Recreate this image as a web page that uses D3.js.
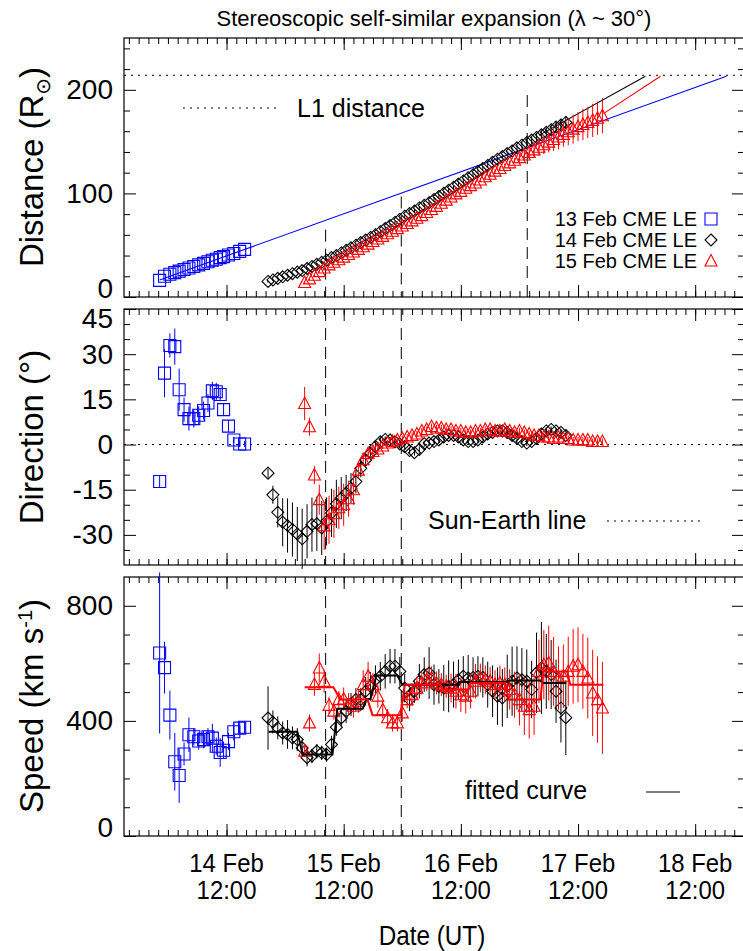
<!DOCTYPE html>
<html>
<head>
<meta charset="utf-8">
<script src="https://cdn.jsdelivr.net/npm/d3@7"></script>
<style>
body { margin: 0; background: #fff; }
text { font-family: "Liberation Sans", Arial, sans-serif; fill: #000; }
.tick line { stroke: #000; stroke-width: 1; }
</style>
</head>
<body>
<svg width="743" height="951"></svg>
<script>
// ---- data (times are hours after 13 Feb 2011 00:00 UT) ----
var t13 = [22.3, 23.3, 24.4, 25.4, 26.3, 27.3, 28.3, 29.3, 30.3, 31.3, 32.2, 33.1, 33.9, 34.7, 35.4, 36.4, 37.5, 38.7, 39.7];
var dist13 = [16, 20, 22, 23.5, 25, 26.5, 28, 29.5, 31, 32.5, 34, 35.5, 36.5, 38, 39, 40.5, 42, 44, 46];
var dir13 = [-12.3, 23.7, 32.9, 32.5, 18.2, 11.6, 8.6, 8.6, 9.7, 11.3, 13.8, 17.8, 17.5, 16.6, 11.6, 6.1, 1.5, 0.2, 0.2];
var dirErr13 = [2, 8, 4, 6, 7, 4, 4, 3, 3, 3, 3, 3, 3, 2, 2, 2, 1, 1, 1];
var speed13 = [636, 585, 420, 258, 210, 285, 352, 345, 330, 335, 345, 340, 312, 290, 298, 328, 362, 375, 378];
var speedErr13 = [280, 90, 85, 100, 95, 40, 60, 30, 30, 30, 30, 50, 30, 50, 30, 30, 30, 20, 20];

var t14 = [44.5, 45.5, 46.5, 47.5, 48.5, 49.5, 50.5, 51.5, 52.5, 53.5, 54.5, 55.5, 56.5, 57.5, 58.5, 59.5,
  60.5, 61.5, 62.5, 63.5, 64.5, 65.5, 66.5, 67.5, 68.5, 69.5, 70.5, 71.5, 72.5, 73.5, 74.5, 75.5, 76.5,
  77.5, 78.5, 79.5, 80.5, 81.5, 82.5, 83.5, 84.5, 85.5, 86.5, 87.5, 88.5, 89.5, 90.5, 91.5, 92.5, 93.5,
  94.5, 95.5, 96.5, 97.5, 98.5, 99.5, 100.5, 101.5, 102.5, 103.5, 104.5, 105.5];
var dist14 = [15, 16.5, 18, 19.5, 21, 22.5, 24, 25.5, 27.5, 29.5, 31.5, 33.5, 35.5, 38, 40, 42.5, 45, 47.5,
  50, 52.5, 55, 57.5, 60, 63, 66, 69, 72, 75, 78, 80.5, 83, 86, 88.5, 91, 94, 97, 100, 103, 106, 109, 112,
  115, 118, 121, 124, 127, 130, 133, 135.5, 138.5, 141, 144, 146.5, 149, 151.5, 154, 156.5, 159, 161.5,
  164, 166, 168.5];
var distErr14 = [1, 1, 1, 1, 1, 1, 1, 1, 1, 1, 1, 1, 1, 1, 1, 1, 1, 1, 1, 1, 1.5, 1.5, 1.5, 1.5, 1.5, 1.5,
  1.5, 1.5, 1.5, 1.5, 2, 2, 2, 2, 2, 2, 2, 2, 2, 2, 2, 2, 2, 2, 2, 2, 2, 2, 2, 2, 3, 3, 3, 3, 3, 4, 4, 4,
  5, 5, 6, 6];
var dir14 = [-9.5, -16.7, -22.5, -25.8, -26.9, -28.2, -29.7, -31.3, -28.8, -26.6, -26.3, -27.7, -25.5,
  -22.7, -19.7, -17.8, -16.1, -14.5, -12.3, -7.9, -5.1, -2.9, -0.7, 0.9, 1.7, 1.5, 0.9, 0.2, -0.7, -2.0,
  -2.7, -1.6, 0.3, 0.5, 1.0, 1.5, 2.5, 3.0, 3.0, 2.5, 1.5, 1.0, 1.0, 1.5, 2.5, 3.5, 4.0, 4.5, 4.5, 4.0,
  3.0, 2.0, 1.0, 0.5, 1.0, 2.0, 3.5, 4.5, 5.0, 4.5, 4.0, 3.0];
var dirErr14 = [1.5, 3, 5, 8, 9, 9, 9, 10, 9, 9, 9, 9, 8, 8, 8, 7, 6, 5, 4, 3, 2, 1.5, 1.5, 1.5, 1, 1, 1,
  1, 1, 1, 1, 1, 1, 1, 1, 1, 1, 1, 1, 1, 1, 1, 1, 1, 1, 1, 1, 1, 1, 1, 1, 1, 1, 1, 1, 1, 1, 1, 1, 1, 1, 1];
var speed14 = [410, 396, 376, 358, 353, 341, 335, 306, 272, 278, 295, 289, 283, 318, 378, 410, 433, 457,
  474, 474, 503, 520, 543, 555, 572, 590, 590, 572, 514, 474, 503, 538, 561, 566, 526, 520, 514, 520, 526,
  543, 555, 549, 551, 555, 551, 526, 503, 486, 480, 520, 538, 549, 543, 538, 509, 567, 584, 572, 561, 503,
  445, 411];
var speedErr14 = [110, 40, 40, 40, 50, 40, 40, 30, 30, 25, 25, 25, 25, 30, 30, 30, 40, 40, 40, 40, 50, 50,
  50, 50, 60, 60, 60, 50, 50, 40, 40, 60, 60, 90, 70, 60, 80, 90, 80, 70, 70, 80, 70, 70, 70, 80, 90, 100,
  100, 110, 120, 110, 110, 110, 100, 140, 160, 130, 120, 110, 120, 130];

var t15 = [52, 53, 54, 55, 56, 57, 58, 59, 60, 61, 62, 63, 64, 65, 66, 67, 68, 69, 70, 71, 72, 73, 74, 75,
  76, 77, 78, 79, 80, 81, 82, 83, 84, 85, 86, 87, 88, 89, 90, 91, 92, 93, 94, 95, 96, 97, 98, 99, 100, 101,
  102, 103, 104, 105, 106, 107, 108, 109, 110, 111, 112, 113];
var dist15 = [14, 17.5, 21, 24.5, 28, 31, 33.5, 36, 38.5, 41, 43.5, 46, 48.5, 51, 53.5, 56, 58.5, 61, 63.5,
  66, 68.5, 71, 73.5, 76, 78.5, 81.5, 84.5, 87.5, 90.5, 93.5, 96.5, 99.5, 102, 105, 107.5, 110, 113, 116,
  118.5, 121.5, 124, 127, 129.5, 132, 134.5, 137, 139.5, 142, 144.5, 147, 149.5, 152, 154.5, 157, 159.5,
  162, 164.5, 166.5, 168.5, 170.5, 172.5, 175];
var distErr15 = [1, 1, 1, 1, 1, 1, 1, 1, 1, 1, 1, 1, 1, 1, 1, 1, 1, 1, 1, 1, 1.5, 1.5, 1.5, 1.5, 1.5, 1.5,
  1.5, 1.5, 1.5, 1.5, 2, 2, 2, 2, 2, 2, 2, 2, 2, 2, 2, 2, 2, 2, 4, 5, 6, 7, 8, 9, 10, 11, 12, 12, 13, 14,
  14, 15, 15, 16, 16, 17];
var dir15 = [13.6, 5.9, -10.1, -18.3, -27, -25, -23, -21, -20, -18, -15, -8.5, -5, -3, -2.3, -1.5, -0.5,
  0.5, 1, 1.5, 2, 2.5, 3, 3.5, 4.5, 5, 6, 5.5, 5.5, 5, 5, 4.5, 4.5, 4, 4, 4.5, 4.5, 5, 5, 4.5, 4.5, 5, 4.5,
  4, 4.5, 4, 3.5, 3, 3, 2.5, 2.5, 2, 2.5, 2, 2, 1.5, 1.5, 1.5, 1.5, 1, 1, 1];
var dirErr15 = [5.5, 3, 3, 5, 8, 8, 8, 7, 7, 6, 5, 3, 2, 2, 1.5, 1.5, 1, 1, 1, 1, 1, 1, 1, 1, 1, 1, 1, 1,
  1, 1, 1, 1, 1, 1, 1, 1, 1, 1, 1, 1, 1, 1, 1, 1, 1, 1, 1, 1, 1, 1, 1, 1, 1, 1, 1, 1, 1, 1, 1, 1, 1, 1];
var speed15 = [295, 393, 527, 584, 538, 454, 434, 474, 476, 457, 451, 468, 526, 555, 526, 486, 439, 411,
  393, 393, 428, 474, 491, 514, 532, 543, 549, 532, 526, 520, 514, 503, 491, 486, 503, 538, 549, 543, 538,
  526, 532, 526, 509, 491, 474, 451, 439, 451, 572, 595, 601, 572, 549, 555, 572, 590, 595, 572, 549, 497,
  474, 445];
var speedErr15 = [20, 30, 40, 50, 40, 30, 30, 30, 40, 40, 40, 40, 50, 50, 40, 40, 30, 30, 30, 30, 30, 30,
  40, 40, 40, 40, 40, 40, 40, 40, 50, 60, 60, 60, 60, 60, 50, 50, 50, 50, 60, 60, 70, 80, 90, 100, 100, 100,
  110, 120, 130, 120, 110, 110, 120, 130, 130, 130, 140, 150, 150, 160];

// straight-line fits of distance (start / end)
var fitDistT13 = [22.3, 138.4], fitDist13 = [16.5, 213];
var fitDistT14 = [100, 121.8], fitDist14 = [156, 213];
var fitDistT15 = [113.2, 124.9], fitDist15 = [177, 213];

// fitted speed curves
var fitT14 = [44.6, 50.5, 51.6, 57.7, 58.7, 63.9, 64.7, 65.5, 66.7, 71.0, 72.0, 83.3, 83.7, 93.5, 94.0, 100.3, 100.7, 105.6];
var fitV14 = [362, 362, 283, 283, 442, 442, 476, 476, 558, 558, 526, 526, 535, 535, 540, 540, 532, 532];
var fitT15 = [52.0, 57.9, 59.3, 64.9, 65.9, 71.6, 72.5, 79.8, 80.2, 85.6, 86.0, 93.1, 93.8, 100.3, 100.9, 105.8, 106.4, 113.2];
var fitV15 = [517, 517, 474, 474, 420, 420, 526, 526, 509, 509, 532, 532, 474, 474, 572, 572, 526, 526];

var L1 = 214;
var markT = [56.3, 71.8, 97.6];      // dashed time markers
var markTop = [65, 97, 195];         // where they start in the distance panel

var majorHours = [36, 60, 84, 108, 132];

// ---- layout ----
var svg = d3.select('svg');
var plotL = 124, plotR = 744;
var base = Date.UTC(2011, 1, 13);
function hr(h) { return new Date(base + h * 3600e3); }

var x = d3.scaleUtc().domain([hr(15), hr(142)]).range([plotL, plotR]);
var xMajor = majorHours.map(hr);
var xMinor = d3.utcHour.every(2).range(hr(15), hr(142));

var y1 = d3.scaleLinear().domain([0, 250]).range([297, 38]);
var y2 = d3.scaleLinear().domain([-40, 45]).range([565, 309]);
var y3 = d3.scaleLinear().domain([0, 900]).range([836, 577]);

var paths = {
    square: 'M-6,-6h12v12h-12z',
    diamond: 'M0,-6L6,0L0,6L-6,0Z',
    triangle: 'M0,-6.5L6,5L-6,5Z'
};

function frame(y, major, minor, labels) {
    var top = y.range()[1], bot = y.range()[0];
    var g = svg.append('g').attr('class', 'frame');
    function ax(axis, tx, ty) {
        g.append('g').attr('transform', 'translate(' + tx + ',' + ty + ')')
            .call(axis.tickFormat('').tickSizeOuter(0))
            .call(function(s) { s.select('.domain').remove(); });
    }
    ax(d3.axisTop(x).tickValues(xMinor).tickSize(6), 0, bot);
    ax(d3.axisTop(x).tickValues(xMajor).tickSize(12), 0, bot);
    ax(d3.axisBottom(x).tickValues(xMinor).tickSize(6), 0, top);
    ax(d3.axisBottom(x).tickValues(xMajor).tickSize(12), 0, top);
    ax(d3.axisRight(y).tickValues(minor).tickSize(6), plotL, 0);
    ax(d3.axisRight(y).tickValues(major).tickSize(12), plotL, 0);
    ax(d3.axisLeft(y).tickValues(minor).tickSize(6), plotR, 0);
    ax(d3.axisLeft(y).tickValues(major).tickSize(12), plotR, 0);
    g.append('rect')
        .attr('x', plotL).attr('y', top)
        .attr('width', plotR - plotL).attr('height', bot - top)
        .attr('fill', 'none').attr('stroke', '#000').attr('stroke-width', 1.2);
    g.selectAll('.ylab').data(labels).enter().append('text')
        .attr('class', 'ylab')
        .attr('x', 113)
        .attr('y', function(d) {
            var p = y(+d);
            if (bot - p < 12) return bot - 9;
            if (p - top < 12) return top + 9;
            return p;
        })
        .attr('text-anchor', 'end')
        .attr('dominant-baseline', 'central')
        .style('font-size', '28px')
        .text(function(d) { return d; });
}

function series(y, t, v, err, color, shape) {
    var g = svg.append('g');
    var pts = t.map(function(h, i) { return {x: x(hr(h)), v: v[i], e: err ? err[i] : 0}; });
    if (err) {
        g.selectAll('.err').data(pts).enter().append('line')
            .attr('x1', function(d) { return d.x; }).attr('x2', function(d) { return d.x; })
            .attr('y1', function(d) { return y(d.v - d.e); })
            .attr('y2', function(d) { return y(d.v + d.e); })
            .attr('stroke', color).attr('stroke-width', 1);
    }
    g.selectAll('.pt').data(pts).enter().append('path')
        .attr('d', paths[shape])
        .attr('transform', function(d) { return 'translate(' + d.x + ',' + y(d.v) + ')'; })
        .attr('fill', 'none').attr('stroke', color).attr('stroke-width', 1.1);
}

function curve(y, t, v, color, w) {
    var line = d3.line().x(function(d) { return x(hr(d[0])); }).y(function(d) { return y(d[1]); });
    svg.append('path')
        .attr('d', line(t.map(function(h, i) { return [h, v[i]]; })))
        .attr('fill', 'none').attr('stroke', color).attr('stroke-width', w);
}

function vmark(y, h, top) {
    svg.append('line')
        .attr('x1', x(hr(h))).attr('x2', x(hr(h)))
        .attr('y1', y(top)).attr('y2', y.range()[0])
        .attr('stroke', '#000').attr('stroke-width', 1).attr('stroke-dasharray', '12,7');
}

// ---- panel 1: distance ----
frame(y1, [0, 100, 200], [20, 40, 60, 80, 120, 140, 160, 180, 220, 240], ['0', '100', '200']);
svg.append('line').attr('x1', plotL).attr('x2', plotR).attr('y1', y1(L1)).attr('y2', y1(L1))
    .attr('stroke', '#000').attr('stroke-dasharray', '2,5');
markT.forEach(function(h, i) { vmark(y1, h, markTop[i]); });
curve(y1, fitDistT13, fitDist13, '#0000ff', 1.1);
curve(y1, fitDistT14, fitDist14, '#000', 1.1);
curve(y1, fitDistT15, fitDist15, '#ff0000', 1.1);
series(y1, t13, dist13, null, '#0000ff', 'square');
series(y1, t14, dist14, distErr14, '#000', 'diamond');
series(y1, t15, dist15, distErr15, '#ff0000', 'triangle');

// legend
var legNames = ['13 Feb CME LE', '14 Feb CME LE', '15 Feb CME LE'];
var legColors = ['#0000ff', '#000', '#ff0000'];
var legShapes = ['square', 'diamond', 'triangle'];
legNames.forEach(function(n, i) {
    var ly = 219 + i * 21;
    svg.append('text').attr('x', 697).attr('y', ly).attr('text-anchor', 'end')
        .attr('dominant-baseline', 'central').style('font-size', '20px').text(n);
    svg.append('path').attr('d', paths[legShapes[i]])
        .attr('transform', 'translate(711,' + ly + ')')
        .attr('fill', 'none').attr('stroke', legColors[i]).attr('stroke-width', 1.1);
});
svg.append('line').attr('x1', 183).attr('x2', 278).attr('y1', 108).attr('y2', 108)
    .attr('stroke', '#000').attr('stroke-dasharray', '2,5');
svg.append('text').attr('x', 297).attr('y', 108).attr('dominant-baseline', 'central')
    .style('font-size', '25px').text('L1 distance');

// ---- panel 2: direction ----
frame(y2, [-30, -15, 0, 15, 30, 45], [-35, -25, -20, -10, -5, 5, 10, 20, 25, 35, 40],
    ['-30', '-15', '0', '15', '30', '45']);
svg.append('line').attr('x1', plotL).attr('x2', plotR).attr('y1', y2(0)).attr('y2', y2(0))
    .attr('stroke', '#000').attr('stroke-dasharray', '2,5');
vmark(y2, markT[0], 45);
vmark(y2, markT[1], 45);
series(y2, t13, dir13, dirErr13, '#0000ff', 'square');
series(y2, t14, dir14, dirErr14, '#000', 'diamond');
series(y2, t15, dir15, dirErr15, '#ff0000', 'triangle');
svg.append('text').attr('x', 428).attr('y', 520).attr('dominant-baseline', 'central')
    .style('font-size', '25px').text('Sun-Earth line');
svg.append('line').attr('x1', 607).attr('x2', 704).attr('y1', 521).attr('y2', 521)
    .attr('stroke', '#000').attr('stroke-dasharray', '2,5');

// ---- panel 3: speed ----
frame(y3, [0, 400, 800], [100, 200, 300, 500, 600, 700], ['0', '400', '800']);
vmark(y3, markT[0], 900);
vmark(y3, markT[1], 900);
series(y3, t13, speed13, speedErr13, '#0000ff', 'square');
series(y3, t14, speed14, speedErr14, '#000', 'diamond');
series(y3, t15, speed15, speedErr15, '#ff0000', 'triangle');
curve(y3, fitT14, fitV14, '#000', 2);
curve(y3, fitT15, fitV15, '#ff0000', 2);
svg.append('text').attr('x', 465).attr('y', 790).attr('dominant-baseline', 'central')
    .style('font-size', '25px').text('fitted curve');
svg.append('line').attr('x1', 646).attr('x2', 680).attr('y1', 792).attr('y2', 792)
    .attr('stroke', '#000').attr('stroke-width', 1.2);

// ---- x tick labels and titles ----
var dayFmt = d3.utcFormat('%-d %b'), hourFmt = d3.utcFormat('%H:%M');
xMajor.forEach(function(d) {
    svg.append('text').attr('text-anchor', 'middle').style('font-size', '26px')
        .attr('transform', 'translate(' + x(d) + ',872) scale(0.92,1)')
        .text(dayFmt(d));
    svg.append('text').attr('text-anchor', 'middle').style('font-size', '26px')
        .attr('transform', 'translate(' + x(d) + ',899) scale(0.92,1)')
        .text(hourFmt(d));
});
svg.append('text').attr('transform', 'translate(432,945) scale(0.9,1)').attr('text-anchor', 'middle')
    .style('font-size', '27px').text('Date (UT)');
svg.append('text').attr('x', 434).attr('y', 26).attr('text-anchor', 'middle')
    .style('font-size', '22px').text('Stereoscopic self-similar expansion (\u03bb ~ 30\u00b0)');

function ytitle(cy, build) {
    var t = svg.append('text').attr('transform', 'translate(43,' + cy + ') rotate(-90)')
        .attr('text-anchor', 'middle').style('font-size', '33px');
    build(t);
}
ytitle(167, function(t) {
    t.append('tspan').text('Distance (R');
    t.append('tspan').attr('dy', 7).style('font-size', '20px').style('font-family', 'DejaVu Sans').text('\u2299');
    t.append('tspan').attr('dy', -7).text(')');
});
ytitle(437, function(t) { t.text('Direction (\u00b0)'); });
ytitle(706, function(t) {
    t.append('tspan').text('Speed (km s');
    t.append('tspan').attr('dy', -11).style('font-size', '20px').text('-1');
    t.append('tspan').attr('dy', 11).text(')');
});
</script>
</body>
</html>
